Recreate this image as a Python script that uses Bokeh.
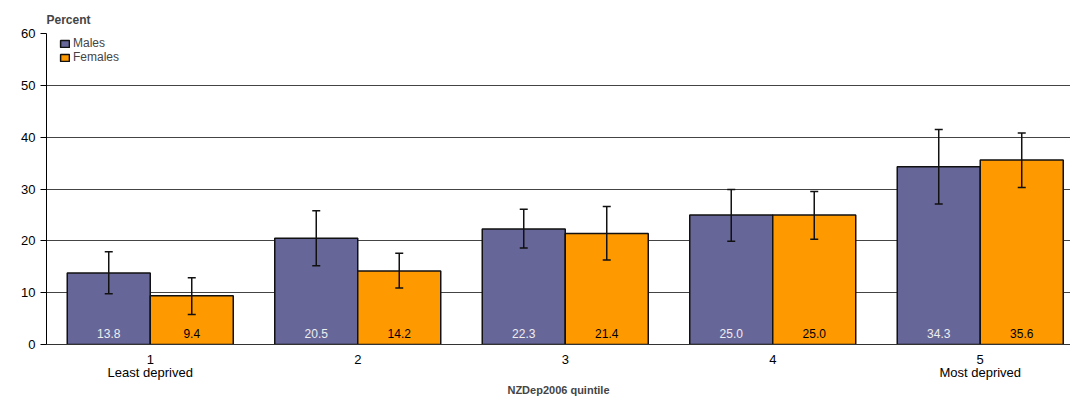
from bokeh.plotting import figure
from bokeh.models import ColumnDataSource, Whisker, FixedTicker, Legend, LegendItem
from bokeh.transform import dodge
from bokeh.core.properties import value
from bokeh.embed import file_html
from bokeh.resources import INLINE

quintiles = [1, 2, 3, 4, 5]
tick_labels = ["1\nLeast deprived", "2", "3", "4", "5\nMost deprived"]
males = [13.8, 20.5, 22.3, 25.0, 34.3]
males_lower = [9.8, 15.2, 18.6, 19.9, 27.1]
males_upper = [17.9, 25.8, 26.1, 29.9, 41.5]
females = [9.4, 14.2, 21.4, 25.0, 35.6]
females_lower = [5.8, 10.9, 16.3, 20.3, 30.3]
females_upper = [12.9, 17.6, 26.6, 29.5, 40.8]

MALE_COLOR = "#666699"
FEMALE_COLOR = "#FF9900"
FONT = "Liberation Sans"

src = ColumnDataSource(dict(
    x=quintiles, m=males, ml=males_lower, mu=males_upper,
    f=females, fl=females_lower, fu=females_upper,
    mlab=["%.1f" % v for v in males], flab=["%.1f" % v for v in females],
))

p = figure(width=1070, height=399, x_range=(0.5, 5.435), y_range=(0, 60),
           output_backend="svg", toolbar_location=None,
           min_border_left=46, min_border_right=0, min_border_bottom=0,
           min_border_top=33)
p.outline_line_color = None
p.background_fill_color = "white"

p.title.text = "Percent"
p.title.text_font = FONT
p.title.text_font_size = "12px"
p.title.text_font_style = "bold"
p.title.align = "left"
p.title.standoff = 14

# grid
p.xgrid.grid_line_color = None
p.ygrid.grid_line_color = "#444444"
p.ygrid.grid_line_width = 1
p.ygrid.ticker = FixedTicker(ticks=[10, 20, 30, 40, 50, 60])

# bars
rm = p.vbar(x=dodge("x", -0.2, range=p.x_range), top="m", width=0.4, source=src,
            fill_color=MALE_COLOR, line_color="#111111", line_width=1.5)
rf = p.vbar(x=dodge("x", 0.2, range=p.x_range), top="f", width=0.4, source=src,
            fill_color=FEMALE_COLOR, line_color="#111111", line_width=1.5)

# error bars
for base, lo, hi in [(dodge("x", -0.2, range=p.x_range), "ml", "mu"),
                     (dodge("x", 0.2, range=p.x_range), "fl", "fu")]:
    w = Whisker(source=src, base=base, lower=lo, upper=hi, level="overlay",
                line_color="#111111", line_width=1.5)
    w.upper_head.size = 8
    w.lower_head.size = 8
    w.upper_head.line_color = "#111111"
    w.lower_head.line_color = "#111111"
    w.upper_head.line_width = 1.5
    w.lower_head.line_width = 1.5
    p.add_layout(w)

# value labels
p.text(x=dodge("x", -0.2, range=p.x_range), y=0, text="mlab", source=src,
       text_font=value(FONT), text_font_size="12px", text_color="#eeeeee",
       text_align="center", text_baseline="middle", y_offset=-11)
p.text(x=dodge("x", 0.2, range=p.x_range), y=0, text="flab", source=src,
       text_font=value(FONT), text_font_size="12px", text_color="#000000",
       text_align="center", text_baseline="middle", y_offset=-11)

# axes
xa = p.xaxis[0]
xa.ticker = FixedTicker(ticks=quintiles)
xa.major_label_overrides = {q: lab for q, lab in zip(quintiles, tick_labels)}
xa.major_tick_out = 0
xa.major_tick_in = 0
xa.minor_tick_out = 0
xa.minor_tick_in = 0
xa.axis_line_color = "#333333"
xa.major_label_text_font = FONT
xa.major_label_text_font_size = "13px"
xa.major_label_text_line_height = 0.9
xa.major_label_text_color = "#000000"
xa.major_label_standoff = 7
xa.axis_label = "NZDep2006 quintile"
xa.axis_label_text_font = FONT
xa.axis_label_text_font_size = "11px"
xa.axis_label_text_font_style = "bold"
xa.axis_label_standoff = 1

ya = p.yaxis[0]
ya.ticker = FixedTicker(ticks=[0, 10, 20, 30, 40, 50, 60])
ya.major_tick_out = 6
ya.major_tick_in = 0
ya.minor_tick_out = 0
ya.minor_tick_in = 0
ya.axis_line_color = "#000000"
ya.major_tick_line_color = "#000000"
ya.major_label_text_font = FONT
ya.major_label_text_font_size = "13px"
ya.major_label_text_color = "#000000"
ya.major_label_standoff = 5

legend = Legend(items=[LegendItem(label="Males", renderers=[rm]),
                       LegendItem(label="Females", renderers=[rf])],
                location=(13, 280), margin=0, padding=2, spacing=0,
                glyph_width=11, glyph_height=9, label_height=14,
                label_standoff=3, border_line_color=None,
                background_fill_alpha=0,
                label_text_font=FONT, label_text_font_size="12px")
p.add_layout(legend, "center")

open("out.html", "w").write(file_html(p, INLINE))
